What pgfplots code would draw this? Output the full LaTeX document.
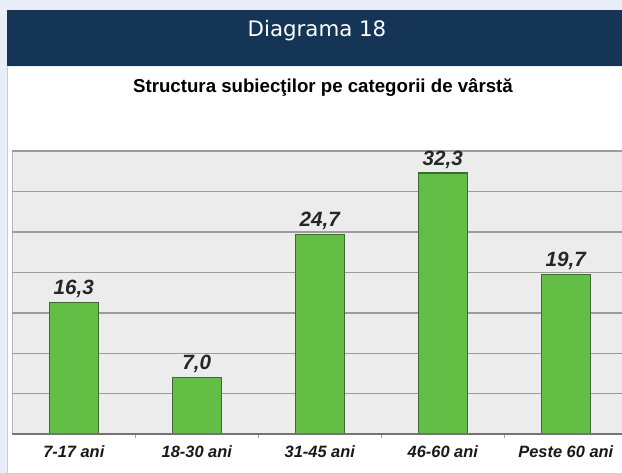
\documentclass[border=0pt]{standalone}
\usepackage{pgfplots}
\pgfplotsset{compat=1.18}
\usepackage{fontspec}
\setmainfont{Liberation Sans}
\newfontfamily\dejavu{DejaVu Sans}
\definecolor{outerbg}{HTML}{E8EEF8}
\definecolor{navy}{HTML}{153557}
\definecolor{plotbg}{HTML}{ECECEC}
\definecolor{gridc}{HTML}{9C9C9C}
\definecolor{barfill}{HTML}{64BE46}
\definecolor{baredge}{HTML}{3D6A30}
\begin{document}
\begin{tikzpicture}[x=0.75pt,y=0.75pt]
\useasboundingbox (0,0) rectangle (622,473);
\fill[outerbg] (0,0) rectangle (622,473);
\fill[navy] (7,463) rectangle (622,407);
\fill[white] (7,406) rectangle (622,0);
\draw[black!20, line width=0.75pt] (7.4,406) -- (7.4,0);
\node[anchor=base, text=white, font=\dejavu\fontsize{16pt}{18pt}\selectfont, inner sep=0pt] at (317,436) {Diagrama 18};
\node[anchor=base, font=\bfseries\fontsize{14pt}{16pt}\selectfont, inner sep=0pt] at (323,380) {Structura subiecţilor pe categorii de vârstă};
\begin{axis}[
  at={(10,48)}, anchor=south west,
  scale only axis, width=457.5pt, height=212.25pt,
  xmin=-0.5, xmax=4.459, ymin=0, ymax=35,
  axis background/.style={fill=plotbg},
  axis line style={draw=none},
  ytick={0,5,...,35}, yticklabels={}, major y tick style={draw=none},
  ymajorgrids, grid style={gridc, line width=1.1pt},
  xtick={0,1,2,3,4}, xtick pos=bottom,
  xticklabels={7-17 ani,18-30 ani,31-45 ani,46-60 ani,Peste 60 ani},
  major x tick style={draw=none},
  minor xtick={0.5,1.5,2.5,3.5},
  minor tick length=3pt, tick align=outside,
  minor x tick style={gridc, line width=0.8pt},
  xticklabel style={font=\bfseries\itshape\fontsize{12.3pt}{14pt}\selectfont, anchor=base, yshift=-13pt, text=black!90},
  ybar, bar width=36.75pt,
  nodes near coords={\pgfmathprintnumber[fixed,fixed zerofill,precision=1,use comma,assume math mode=true]{\pgfplotspointmeta}},
  nodes near coords style={font=\bfseries\itshape\fontsize{15.5pt}{17pt}\selectfont, anchor=base, yshift=6pt, inner sep=0pt, text=black!85},
]
\addplot[fill=barfill, draw=baredge, line width=0.9pt] coordinates {(0,16.3) (1,7.0) (2,24.7) (3,32.3) (4,19.7)};
\draw[gridc, line width=1.1pt] (axis cs:-0.5,0) -- (axis cs:-0.5,35);
\draw[black!55, line width=1.2pt] (axis cs:-0.5,0) -- (axis cs:4.459,0);
\end{axis}
\end{tikzpicture}
\end{document}
